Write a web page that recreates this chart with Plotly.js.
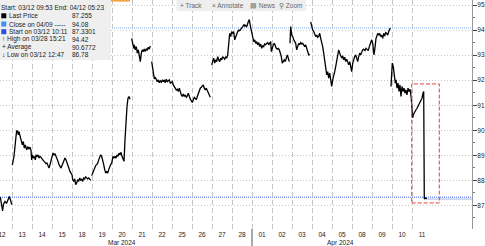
<!DOCTYPE html>
<html><head><meta charset="utf-8">
<script src="https://cdn.plot.ly/plotly-3.0.1.min.js"></script>
<style>html,body{margin:0;padding:0;background:#fff}#chart{width:485px;height:246px}</style>
</head><body><div id="chart"></div>
<script>
// x unit: trading days since 03/12 00:00 (weekends removed); day i spans [i, i+1]
const dayLabels = ['12','13','14','15','18','19','20','21','22','25','26','27','28','01','02','03','04','05','08','09','10','11'];
const monthLabels = ['Mar 2024','Apr 2024'];
const monthCenters = [6.485, 17.44];
const monthBoundary = 13;

const segMar12T = [0.415,0.475,0.53,0.575,0.65,0.725,0.815,0.865,0.925,0.985];
const segMar12P = [87.33,86.98,86.78,87.05,87.16,87.08,87.30,87.36,87.22,87.03];

const segMar13T = [1.015,1.1,1.2,1.235,1.285,1.315,1.35,1.4,1.45,1.515,1.565,1.615,1.665,1.735,1.785,1.85,1.9,1.95,
  1.985,2.015,2.065,2.115,2.165,2.2,2.25,2.3,2.35,2.4,2.45,2.5,2.55,2.6,2.65,2.7,2.75,2.8,2.85,2.9,2.95,3.0,3.05,3.1,3.15,3.2,3.25,3.3,3.35,3.4,3.45,3.5,3.55,3.6,3.65,3.7,3.75,3.8,3.85,3.9,3.95,
  4.0,4.035,4.085,4.135,4.185,4.235,4.285,4.335,4.385,4.435,4.485,4.535,4.585,4.635,4.685,4.735,4.785,4.835,4.885,4.935];
const segMar13P = [88.61,88.96,89.75,89.99,89.95,89.82,89.95,89.75,89.55,89.42,89.55,89.29,89.42,89.22,89.35,89.25,89.33,89.20,
  88.82,89.02,88.89,88.96,88.82,89.02,88.96,89.02,88.89,88.96,88.92,88.85,88.82,88.76,88.72,88.67,88.69,88.59,88.49,88.63,88.82,88.96,89.09,89.02,89.05,88.96,88.89,88.76,88.63,88.56,88.49,88.59,88.72,88.82,88.89,88.82,88.69,88.56,88.43,88.36,88.29,
  88.23,88.03,87.96,88.06,87.83,87.90,88.03,87.96,88.10,88.00,88.06,87.96,88.10,88.06,88.14,88.10,88.06,88.10,88.06,88.00];

const segMar19T = [4.985,5.035,5.085,5.135,5.185,5.235,5.285,5.335,5.385,5.435,5.485,5.535,5.585,5.635,5.685,5.735,5.785,5.835,5.885,5.935,5.985,6.0,6.05,6.1,6.15,6.2,6.25,6.3,6.35,6.4,6.45,6.5,6.55,6.6,6.65,6.7,6.75,6.8,6.85,6.9];
const segMar19P = [88.19,88.29,88.43,88.49,88.59,88.63,88.69,88.82,88.96,89.02,88.96,88.82,88.63,88.43,88.29,88.36,88.29,88.43,88.56,88.63,88.69,88.82,88.96,88.89,88.96,88.89,89.02,88.96,89.09,89.02,89.12,88.96,88.82,88.76,89.62,90.42,90.95,91.28,91.35,91.24];

const segMar21T = [6.985,7.035,7.085,7.115,7.165,7.215,7.265,7.315,7.365,7.415,7.465,7.515,7.565,7.615,7.665,7.715,7.765,7.815,7.865,7.915];
const segMar21P = [93.67,93.47,93.27,93.41,93.21,93.34,93.08,93.21,93.01,92.74,93.08,93.21,93.14,93.24,93.14,93.24,93.21,93.31,93.24,93.37];

const segMar22T = [7.985,8.035,8.065,8.115,8.165,8.215,8.265,8.315,8.365,8.415,8.465,8.515,8.565,8.615,8.665,8.715,8.765,8.815,8.865,8.915,8.965,9.015,9.065,9.115,9.165,9.215,9.265,9.315,9.365,9.415,9.465,9.515,9.565,9.615,9.665,9.715,9.765,9.815,9.865,9.915,9.965,10.015,10.065,10.115,10.165,10.215,10.265,10.315,10.365,10.415,10.465,10.515,10.565,10.615,10.665,10.715,10.765,10.815,10.865,10.915];
const segMar22P = [92.74,92.41,92.14,92.05,92.12,92.01,91.94,92.01,91.90,91.97,91.92,92.01,91.94,92.01,91.90,92.04,91.94,91.98,92.01,91.88,91.90,91.94,91.81,91.75,91.72,91.61,91.64,91.55,91.68,91.51,91.41,91.35,91.45,91.35,91.41,91.32,91.37,91.48,91.31,91.24,91.18,91.11,91.22,91.31,91.27,91.22,91.35,91.48,91.61,91.68,91.72,91.77,91.81,91.68,91.61,91.68,91.61,91.48,91.41,91.32];

const segMar27T = [10.985,11.035,11.085,11.135,11.185,11.235,11.285,11.335,11.385,11.435,11.485,11.535,11.585,11.635,11.685,11.735,11.785,11.835,11.885,11.935,11.985,12.035,12.085,12.135,12.185,12.235,12.285,12.335,12.385,12.435,12.485,12.535,12.585,12.635,
  12.65,12.735,12.815,12.865,12.9,12.95,12.985,13.035,13.085,13.135,13.185,13.235,13.285,13.335,13.385,13.435,13.485,13.535,13.585,13.635,13.685,13.735,13.785,13.835,13.885,13.935,
  13.965,14.015,14.065,14.115,14.165,14.215,14.265,14.315,14.365,14.415,14.465,14.515,14.565,14.615,14.665,14.715,14.765,14.815,14.865];
const segMar27P = [92.61,92.74,92.88,92.68,92.81,92.74,92.94,92.81,92.74,92.88,92.81,92.94,92.88,92.84,92.94,92.88,93.01,93.47,93.87,93.74,93.94,93.87,93.94,93.61,93.74,93.87,93.94,94.00,93.98,94.03,94.07,94.14,94.20,94.16,
  94.20,94.14,94.33,94.42,94.24,94.07,94.00,93.74,93.54,93.61,93.47,93.54,93.41,93.50,93.34,93.45,93.27,93.37,93.34,93.45,93.41,93.47,93.50,93.41,93.47,93.54,
  93.14,93.34,93.41,93.47,93.34,93.27,93.24,93.27,93.21,93.08,92.94,92.68,92.74,92.81,92.74,92.94,93.01,92.88,92.74];

const segApr03T = [14.9,14.935,14.985,15.035,15.085,15.135,15.185,15.235,15.285,15.335,15.385,15.435,15.485,15.535,15.585,15.635,15.685,15.735,15.785,15.835,15.885];
const segApr03P = [93.47,94.14,93.80,93.74,93.61,93.54,93.47,93.21,93.34,93.47,93.41,93.50,93.45,93.47,93.41,93.34,93.41,93.27,93.08,93.01,93.04];

const segApr04T = [15.935,15.985,16.035,16.085,16.135,16.185,16.235,16.285,16.335,16.385,16.435,16.485,16.535,16.585,16.635,16.685,16.735,16.785,16.835,16.885,16.935,16.985,17.035,17.085,17.135,17.185,17.235,17.285,17.335,17.385,17.435,17.485,17.535,17.585,17.635,17.685,17.735,17.785,17.835,17.885,17.935,17.985,18.035,18.085,18.135,18.185,18.235,18.285,18.335,18.385,18.435,18.485,18.535,18.585,18.65,18.7,18.765,18.815,18.865,18.935,18.985,19.035,19.1,19.135,19.165,19.2,19.235,19.285,19.335,19.385,19.435,19.485,19.535,19.585,19.635,19.685,19.735,19.785,19.835,19.885,19.915];
const segApr04P = [94.33,94.14,94.00,93.94,93.87,93.74,93.80,93.71,93.76,93.87,93.67,93.54,93.34,93.08,92.74,92.41,92.21,92.34,92.08,92.28,91.94,91.75,92.01,92.14,92.34,92.54,92.81,93.01,93.21,93.08,92.94,92.88,92.97,92.81,92.92,92.74,92.84,92.68,92.61,92.74,92.54,92.34,92.68,92.88,92.94,93.01,92.88,92.74,92.94,93.08,93.01,93.14,93.21,93.24,93.18,93.27,93.21,93.18,93.34,93.54,93.61,93.47,93.01,93.21,93.54,93.67,93.74,93.87,93.80,93.87,93.74,93.80,93.67,93.87,93.76,93.90,93.87,93.80,93.94,94.00,94.08];

const segApr10T = [19.95,20.015,20.065,20.115,20.165,20.2,20.25,20.3,20.35,20.4,20.45,20.5,20.55,20.6,20.65,20.7,20.75,20.8,20.85,20.9,
  20.965,21.0,21.035,21.065,21.1,21.15,21.2,21.25,21.3,21.35,21.4,21.45,21.5,21.55,21.585,21.615,21.685,21.735];
const segApr10P = [91.75,92.68,92.54,92.14,91.88,92.01,91.68,91.88,91.55,91.81,91.35,91.75,91.55,91.68,91.48,91.61,91.41,91.68,91.55,91.64,
  91.28,90.82,90.50,90.62,90.69,90.74,90.82,90.88,90.95,91.02,91.08,91.18,91.28,91.48,91.55,87.26,87.30,87.255];

const lastPrice = 87.255, closeApr09 = 94.08, startPrice = 87.3301, highPrice = 94.42, avgPrice = 90.6772, lowPrice = 86.78;
const boxT = [20.985, 22.365];
const boxP = [87.10, 91.85];

const segments = [[segMar12T,segMar12P],[segMar13T,segMar13P],[segMar19T,segMar19P],[segMar21T,segMar21P],[segMar22T,segMar22P],
  [segMar27T,segMar27P],[segApr03T,segApr03P],[segApr04T,segApr04P],[segApr10T,segApr10P]];
const X = [], Y = [];
segments.forEach((s, k) => { if (k) { X.push(null); Y.push(null); } X.push(...s[0]); Y.push(...s[1]); });

const W = 472, H = 229;
const pxp = v => v / W, pyp = v => 1 - v / H;
const FONT = 'Liberation Sans, Arial, sans-serif';
const tf = {family: FONT, size: 6.5, color: '#222'};

const ann = [];
function txt(x, y, t, extra) { ann.push(Object.assign({xref:'paper', yref:'paper', x: pxp(x), y: pyp(y), text: t, showarrow:false, xanchor:'left', yanchor:'middle', font: tf, borderpad:0}, extra || {})); }
const rows = [8, 15.8, 24, 31.7, 39.4, 47.2, 54.8];
txt(0, rows[0], 'Start: 03/12 09:53 End: 04/12 05:23');
txt(8, rows[1], 'Last Price'); txt(71, rows[1], lastPrice.toFixed(3));
txt(8, rows[2], 'Close on 04/09 -----'); txt(71, rows[2], closeApr09.toFixed(2));
txt(8, rows[3], 'Start on 03/12 10:11'); txt(71, rows[3], startPrice.toFixed(4));
txt(0.5, rows[4], '↑ High on 03/28 15:21'); txt(71, rows[4], highPrice.toFixed(2));
txt(0.5, rows[5], '+ Average'); txt(71, rows[5], avgPrice.toFixed(4));
txt(0.5, rows[6], '↓ Low on 03/12 12:47'); txt(71, rows[6], lowPrice.toFixed(2));
const tb = {family: FONT, size: 6.5, color: '#666'};
txt(179, 5.6, '+ Track', {font: tb});
txt(211, 5.6, '× Annotate', {font: tb});
txt(249, 5.6, '▤ News', {font: tb});
txt(278, 5.6, '⚲ Zoom', {font: tb});
monthLabels.forEach((m, i) => ann.push({xref:'x', yref:'paper', x: monthCenters[i], y: pyp(242.5), text: m, showarrow:false, xanchor:'center', yanchor:'middle', font: tf}));

const shapes = [
  {type:'rect', xref:'paper', yref:'paper', x0:0, x1:pxp(111), y0:pyp(0), y1:pyp(60), fillcolor:'#efefef', line:{width:0}, layer:'above'},
  {type:'rect', xref:'paper', yref:'paper', x0:pxp(111), x1:pxp(130), y0:pyp(0), y1:pyp(1.6), fillcolor:'#f2a441', line:{width:0}, layer:'above'},
  {type:'rect', xref:'paper', yref:'paper', x0:pxp(176.5), x1:pxp(306), y0:pyp(0), y1:pyp(11), fillcolor:'#eeeeee', line:{width:0}, layer:'above'},
  {type:'rect', xref:'paper', yref:'paper', x0:pxp(1.3), x1:pxp(6.3), y0:pyp(rows[1]-2.5), y1:pyp(rows[1]+2.5), fillcolor:'#000', line:{width:0}, layer:'above'},
  {type:'rect', xref:'paper', yref:'paper', x0:pxp(1.3), x1:pxp(6.3), y0:pyp(rows[2]-2.5), y1:pyp(rows[2]+2.5), fillcolor:'#3d8df5', line:{width:0}, layer:'above'},
  {type:'rect', xref:'paper', yref:'paper', x0:pxp(1.3), x1:pxp(6.3), y0:pyp(rows[3]-2.5), y1:pyp(rows[3]+2.5), fillcolor:'#2b4fe0', line:{width:0}, layer:'above'},
  {type:'line', xref:'paper', yref:'y', x0:0, x1:1, y0:closeApr09, y1:closeApr09, line:{color:'#a9c6f2', width:1.5, dash:'1px,1px'}, layer:'below'},
  {type:'line', xref:'paper', yref:'y', x0:0, x1:1, y0:startPrice, y1:startPrice, line:{color:'#3f5fe8', width:1, dash:'1px,1px'}, layer:'below'},
  {type:'line', xref:'x', yref:'y', x0:segApr10T[segApr10T.length-1], x1:24, y0:lastPrice, y1:lastPrice, line:{color:'#9db6e6', width:1}, layer:'below'},
  {type:'rect', xref:'x', yref:'y', x0:boxT[0], x1:boxT[1], y0:boxP[0], y1:boxP[1], line:{color:'#e8403a', width:1, dash:'4px,2px'}, layer:'above'},
  {type:'line', xref:'x', yref:'paper', x0:monthBoundary, x1:monthBoundary, y0:0, y1:pyp(246), line:{color:'#555', width:1}}
];

const trace = {x: X, y: Y, type:'scatter', mode:'lines', line:{color:'#000', width:1.3}, connectgaps:false, hoverinfo:'skip'};

const layout = {
  width:485, height:246, margin:{l:0, r:13, t:0, b:17, pad:0},
  paper_bgcolor:'#fff', plot_bgcolor:'#fff', showlegend:false,
  font:{family: FONT},
  xaxis:{type:'linear', range:[0.4, 24.0], tickmode:'array', tickvals: dayLabels.map((_, i) => i + 0.5), ticktext: dayLabels,
    ticks:'', showgrid:false, zeroline:false, showline:false, tickfont: tf, fixedrange:true, ticklabeloverflow:'allow',
    minor:{tickmode:'array', tickvals: dayLabels.slice(1).map((_, i) => i + 1), showgrid:true, gridcolor:'#c4c4c4', griddash:'5px,3px', gridwidth:1, ticks:''}},
  yaxis:{side:'right', range:[86.06, 95.2], tickmode:'array', tickvals:[87,88,89,90,91,92,93,94,95], tickformat:'.2f',
    showgrid:true, gridcolor:'#c8c8c8', griddash:'1px,2px', gridwidth:1, zeroline:false,
    showline:true, linecolor:'#9a9a9a', linewidth:1, ticks:'outside', ticklen:4, tickcolor:'#444', tickwidth:1,
    ticklabelstandoff:-1, ticklabeloverflow:'allow',
    minor:{tickmode:'array', tickvals:[86.5,87.5,88.5,89.5,90.5,91.5,92.5,93.5,94.5], ticks:'outside', ticklen:2, tickcolor:'#777', showgrid:false},
    tickfont: tf, fixedrange:true},
  shapes: shapes, annotations: ann
};
Plotly.newPlot('chart', [trace], layout, {displayModeBar:false, staticPlot:true});
</script></body></html>
